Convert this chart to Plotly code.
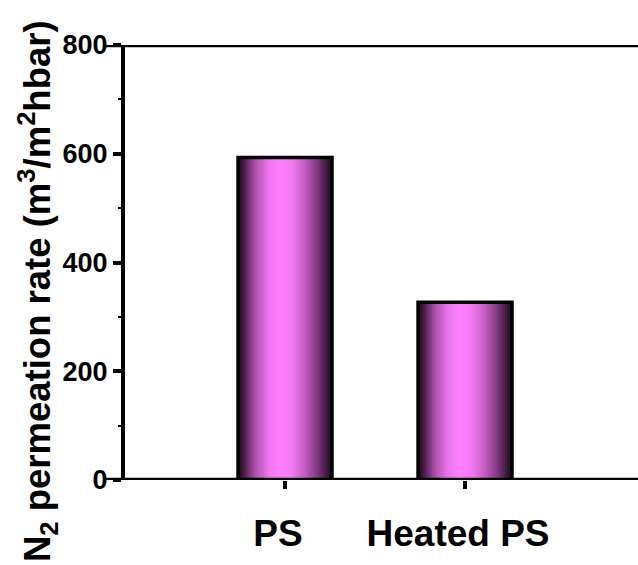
import plotly.graph_objects as go

categories = ["PS", "Heated PS"]
values = [593, 327]
y_ticks = [0, 200, 400, 600, 800]

# cylinder-like horizontal shading for the bars
shade_scale = [
    (0.00, (24, 8, 24)),
    (0.06, (70, 28, 70)),
    (0.18, (170, 80, 170)),
    (0.32, (235, 118, 235)),
    (0.44, (255, 128, 255)),
    (0.56, (245, 122, 245)),
    (0.70, (200, 96, 200)),
    (0.84, (130, 58, 130)),
    (0.94, (66, 26, 64)),
    (1.00, (30, 10, 30)),
]

def shade(t):
    for (t0, c0), (t1, c1) in zip(shade_scale[:-1], shade_scale[1:]):
        if t0 <= t <= t1:
            f = (t - t0) / (t1 - t0)
            c = [round(a + (b - a) * f) for a, b in zip(c0, c1)]
            return f"rgb({c[0]},{c[1]},{c[2]})"
    return "rgb(30,10,30)"

bar_w = 0.522
n_slices = 40
fig = go.Figure()
sw = bar_w / n_slices
for i in range(n_slices):
    t = (i + 0.5) / n_slices
    w = sw * 2 if i < n_slices - 1 else sw
    fig.add_trace(go.Bar(
        x=categories, y=values, width=w, offset=-bar_w / 2 + i * sw,
        marker=dict(color=shade(t), line=dict(width=0)),
        hoverinfo="skip", showlegend=False,
    ))
# outline
fig.add_trace(go.Bar(
    x=categories, y=values, width=bar_w, offset=-bar_w / 2,
    marker=dict(color="rgba(0,0,0,0)", line=dict(color="black", width=3.5)),
    showlegend=False,
))

W, H = 638, 565
L, R, T, B = 125, 0, 45, 85
pw = W - L - R
ph = H - T - B

font_family = "Arial, Liberation Sans, sans-serif"

fig.update_layout(
    width=W, height=H,
    margin=dict(l=L, r=R, t=T, b=B),
    paper_bgcolor="white", plot_bgcolor="white",
    barmode="overlay",
    font=dict(family=font_family, color="black", weight="bold"),
    xaxis=dict(
        type="category", range=[-0.889, 1.961],
        showline=False, showgrid=False, zeroline=False,
        ticks="outside", ticklen=8, tickwidth=3.5, tickcolor="black",
        tickfont=dict(size=37, family=font_family, weight="bold"),
        ticklabelshift=-7, ticklabelstandoff=13,
    ),
    yaxis=dict(
        range=[0, 800], tickvals=y_ticks,
        showline=True, linewidth=4, linecolor="black",
        showgrid=False, zeroline=False,
        ticks="outside", ticklen=8, tickwidth=3.5, tickcolor="black",
        tickfont=dict(size=27, family=font_family, weight="bold"),
        minor=dict(dtick=100, ticks="outside", ticklen=3, tickwidth=2, tickcolor="black", showgrid=False),
    ),
)

x_left = (106 - L) / pw
for yv in [y_ticks[0], y_ticks[-1]]:
    fig.add_shape(type="line", xref="paper", yref="y", x0=x_left, x1=1, y0=yv, y1=yv,
                  line=dict(color="black", width=4.5), layer="above")

fig.add_annotation(
    xref="paper", yref="paper",
    x=(37 - L) / pw, y=(H - B - 291) / ph,
    xanchor="center", yanchor="middle",
    text="N<sub>2</sub> permeation rate (m<sup>3</sup>/m<sup>2</sup>hbar)",
    textangle=-90, showarrow=False,
    font=dict(size=36.5, family=font_family, weight="bold", color="black"),
)

fig.write_html("out.html")
